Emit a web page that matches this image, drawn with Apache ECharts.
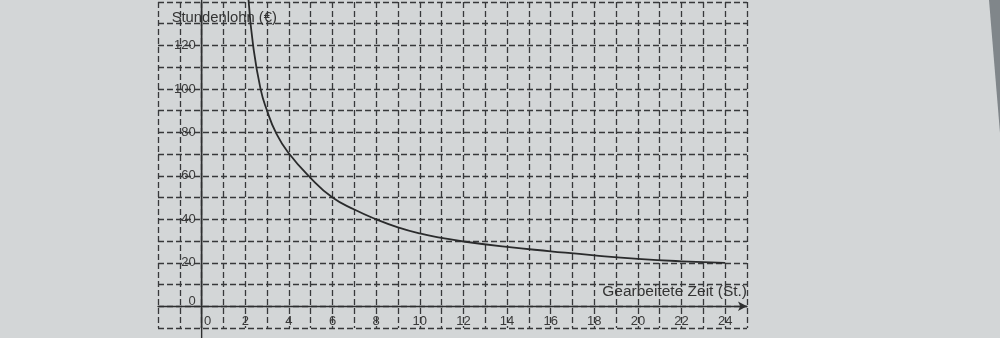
<!DOCTYPE html>
<html>
<head>
<meta charset="utf-8">
<script src="https://cdn.jsdelivr.net/npm/echarts@6/dist/echarts.min.js"></script>
<style>
html,body{margin:0;padding:0;background:#d3d6d7;}
#chart{width:1000px;height:338px;}
</style>
</head>
<body>
<div id="chart"></div>
<script>
// Curve f: hourly wage (€) vs worked time (h)
const curveX = [2.15, 2.36, 2.7, 3.0, 3.4, 3.95, 5, 6, 7, 8, 9, 10, 11, 12, 14, 16, 18, 20, 22, 24];
const curveY = [141, 120, 100, 90, 80, 71, 59, 50, 44.5, 40, 36.3, 33.5, 31.5, 29.8, 27.3, 25.3, 23.4, 21.8, 20.7, 20];
const xTickLabels = [0, 2, 4, 6, 8, 10, 12, 14, 16, 18, 20, 22, 24];
const yTickLabels = [0, 20, 40, 60, 80, 100, 120];
const yAxisExtent = [-15, 150];
const xAxisTitle = 'Gearbeitete Zeit (St.)';
const yAxisTitle = 'Stundenlohn (€)';
const curveName = 'f';

const X_MIN = -2, X_MAX = 25, Y_MIN = -10, Y_MAX = 140;
const W = 1000, H = 338;
const G = {left: 158, right: 253, top: 2, bottom: 10};
// shift the axes onto the zero lines (labels travel with them)
const xOffset = -(0 - Y_MIN) / (Y_MAX - Y_MIN) * (H - G.top - G.bottom);
const yOffset = -(0 - X_MIN) / (X_MAX - X_MIN) * (W - G.left - G.right);

const ink = '#2e2f30';
const gridInk = '#37383a';
const font = '"Liberation Sans", Arial, sans-serif';

const chart = echarts.init(document.getElementById('chart'), null, {renderer: 'canvas'});
chart.setOption({
  animation: false,
  backgroundColor: '#d3d6d7',
  grid: Object.assign({outerBoundsMode: 'none', containLabel: false}, G),
  xAxis: {
    type: 'value', min: X_MIN, max: X_MAX, interval: 1, offset: xOffset,
    axisLine: {onZero: false, lineStyle: {color: ink, width: 1.4}, symbol: ['none', 'arrow'], symbolSize: [7, 9]},
    axisTick: {show: false},
    splitLine: {show: true, lineStyle: {color: gridInk, width: 1.3, type: [6, 3]}},
    axisLabel: {
      color: '#3a3a3a', fontSize: 13, fontFamily: font, margin: 9,
      formatter: v => xTickLabels.includes(v) ? (v === 0 ? '{z|0}' : String(v)) : '',
      rich: {z: {padding: [0, 0, 0, 12], color: '#3a3a3a', fontSize: 13, fontFamily: font}}
    },
    name: xAxisTitle, nameLocation: 'end', nameGap: 0,
    nameTextStyle: {color: '#333', fontSize: 15.5, fontFamily: font, align: 'right', verticalAlign: 'bottom', padding: [0, 0, 7, 0]}
  },
  yAxis: {
    type: 'value', min: Y_MIN, max: Y_MAX, interval: 10, offset: yOffset,
    axisLine: {onZero: false, lineStyle: {color: ink, width: 1.4}},
    axisTick: {show: false},
    splitLine: {show: true, lineStyle: {color: gridInk, width: 1.3, type: [6, 3]}},
    axisLabel: {
      color: '#3a3a3a', fontSize: 13, fontFamily: font, margin: 6,
      formatter: v => yTickLabels.includes(v) ? (v === 0 ? '{z|0}' : String(v)) : '',
      rich: {z: {padding: [0, 0, 10, 0], color: '#3a3a3a', fontSize: 13, fontFamily: font}}
    },
    name: yAxisTitle, nameLocation: 'end', nameGap: -23,
    nameTextStyle: {color: '#333', fontSize: 14.8, fontFamily: font, align: 'left', padding: [0, 0, 0, -30]}
  },
  graphic: [{
    type: 'polygon', silent: true,
    shape: {points: [[989, 0], [1000, 0], [1000, 133]]},
    style: {fill: '#80868a'}
  }],
  series: [
    {
      type: 'line', silent: true, clip: false, symbol: 'none',
      data: [[0, yAxisExtent[0]], [0, yAxisExtent[1]]],
      lineStyle: {color: ink, width: 1.4}
    },
    {
      name: curveName, type: 'line', clip: false, symbol: 'none', smooth: 0.5,
      data: curveX.map((x, i) => i === 0 ? {value: [x, curveY[i]], label: {show: true, formatter: curveName, position: 'right', offset: [2, 6], color: '#333', fontSize: 12, fontFamily: font}} : [x, curveY[i]]),
      lineStyle: {color: '#2a2b2c', width: 1.8}
    }
  ]
});
</script>
</body>
</html>
